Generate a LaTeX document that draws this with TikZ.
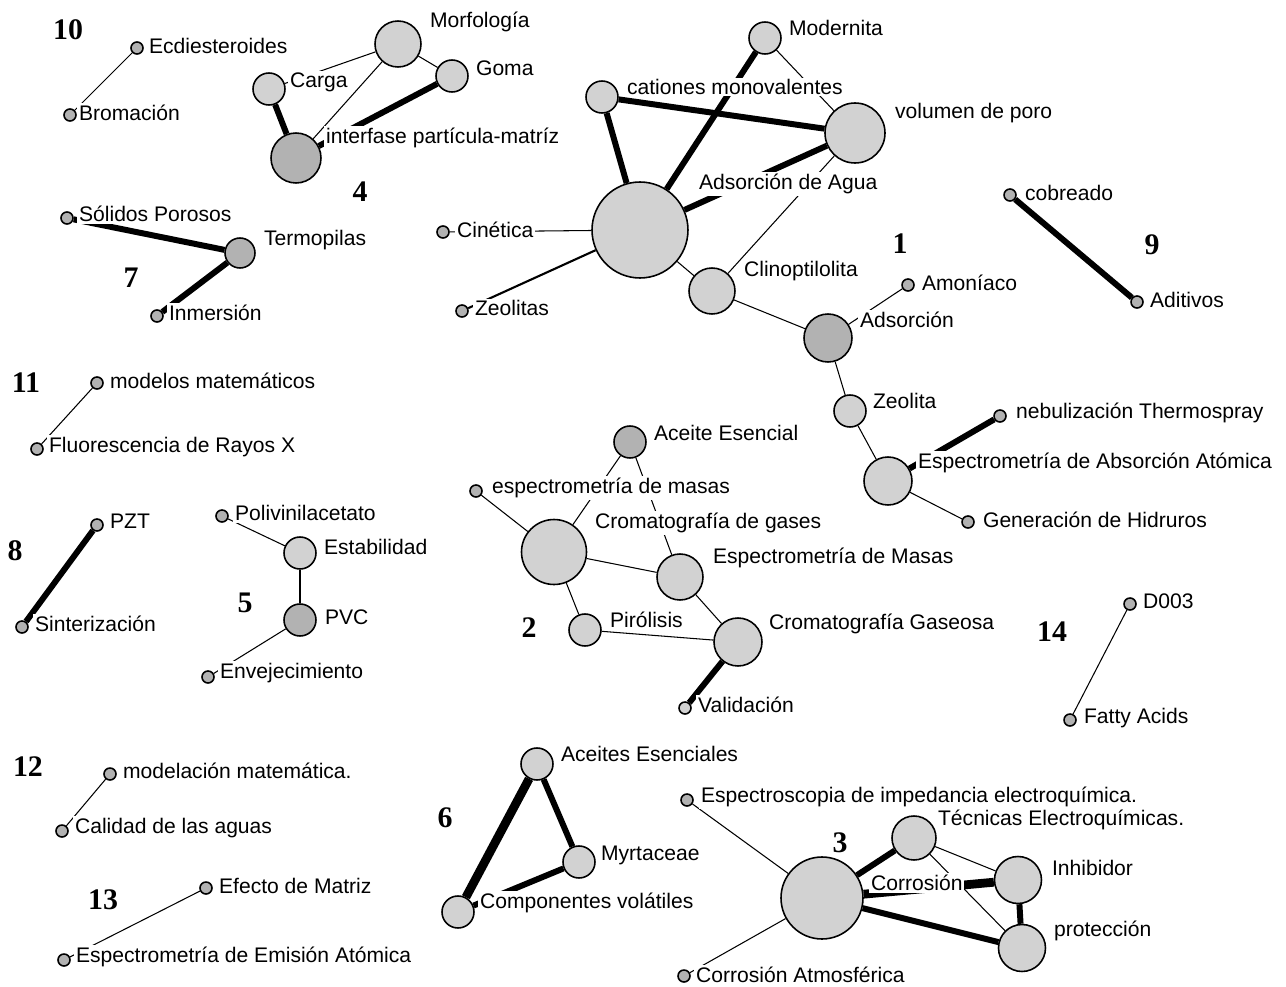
\documentclass[tikz,border=0pt]{standalone}
\usepackage{fontspec}
\setmainfont{Liberation Sans}
\newfontfamily\numfont{Liberation Serif}
\usetikzlibrary{backgrounds}
\begin{document}
\begin{tikzpicture}
[x=0.02cm,y=-0.02cm,%
  kw/.style={shape=circle,draw,line width=0.9pt,inner sep=0pt,minimum size=#1,fill=gray!35},%
  kwd/.style={kw=#1,fill=gray!60},%
  lbl/.style={anchor=west,fill=white,inner sep=1pt,font=\fontsize{12}{13}\selectfont},%
  num/.style={font=\numfont\bfseries\fontsize{17}{17}\selectfont},%
  weak/.style={line width=0.6pt},%
  strong/.style={line width=3.4pt},%
  heavy/.style={line width=5pt}]
\useasboundingbox (0,0) rectangle (1286,987);
\node[kwd=0.24cm] (ecdi) at (137,48) {};
\node[kwd=0.24cm] (brom) at (70,115) {};
\node[kw=0.92cm] (morf) at (398,44) {};
\node[kw=0.64cm] (goma) at (452,76) {};
\node[kw=0.64cm] (carga) at (269,89) {};
\node[kwd=1cm] (inter) at (296,158) {};
\node[kwd=0.24cm] (solid) at (67,218) {};
\node[kwd=0.6cm] (termo) at (240,253) {};
\node[kwd=0.24cm] (inmer) at (157,316) {};
\node[kw=1.92cm] (agua) at (640,230) {};
\node[kw=0.64cm] (catio) at (602,97) {};
\node[kw=0.64cm] (moder) at (765,38) {};
\node[kw=1.2cm] (volum) at (855,133) {};
\node[kwd=0.24cm] (cinet) at (443,232) {};
\node[kwd=0.24cm] (zeols) at (462,311) {};
\node[kw=0.92cm] (clino) at (712,291) {};
\node[kwd=0.96cm] (adsor) at (828,338) {};
\node[kwd=0.24cm] (amoni) at (908,285) {};
\node[kw=0.64cm] (zeol) at (850,411) {};
\node[kw=0.96cm] (eaa) at (888,481) {};
\node[kwd=0.24cm] (nebu) at (1000,416) {};
\node[kwd=0.24cm] (hidr) at (968,522) {};
\node[kwd=0.24cm] (cobre) at (1010,195) {};
\node[kwd=0.24cm] (aditi) at (1137,302) {};
\node[kwd=0.24cm] (model) at (97,383) {};
\node[kwd=0.24cm] (fluor) at (37,449) {};
\node[kwd=0.24cm] (pzt) at (97,525) {};
\node[kwd=0.24cm] (sinter) at (22,627) {};
\node[kwd=0.24cm] (poliv) at (222,516) {};
\node[kw=0.64cm] (estab) at (300,553) {};
\node[kwd=0.64cm] (pvc) at (300,620) {};
\node[kwd=0.24cm] (envej) at (208,677) {};
\node[kwd=0.64cm] (acei) at (630,442) {};
\node[kwd=0.24cm] (espm) at (476,491) {};
\node[kw=1.3cm] (crom) at (554,552) {};
\node[kw=0.92cm] (espM) at (680,577) {};
\node[kw=0.64cm] (piro) at (585,630) {};
\node[kw=0.96cm] (gaseo) at (738,642) {};
\node[kw=0.24cm] (valid) at (685,708) {};
\node[kwd=0.24cm] (d003) at (1130,604) {};
\node[kwd=0.24cm] (fatty) at (1070,720) {};
\node[kwd=0.24cm] (modelac) at (110,774) {};
\node[kwd=0.24cm] (calid) at (62,831) {};
\node[kwd=0.24cm] (efect) at (206,888) {};
\node[kwd=0.24cm] (eea) at (64,960) {};
\node[kw=0.64cm] (aceE) at (537,764) {};
\node[kw=0.64cm] (myrt) at (579,862) {};
\node[kw=0.64cm] (compo) at (458,912) {};
\node[kwd=0.24cm] (espec) at (687,800) {};
\node[kw=1.64cm] (corro) at (822,898) {};
\node[kw=0.88cm] (tecni) at (914,838) {};
\node[kw=0.94cm] (inhib) at (1018,880) {};
\node[kw=0.94cm] (prote) at (1022,948) {};
\node[kwd=0.24cm] (catm) at (684,976) {};
\begin{pgfonlayer}{background}
\fill[white] (0,0) rectangle (1286,987);
\draw[weak] (ecdi) -- (brom);
\draw[strong] (carga) -- (inter);
\draw[strong] (goma) -- (inter);
\draw[weak] (morf) -- (inter);
\draw[weak] (morf) -- (goma);
\draw[weak] (morf) -- (carga);
\draw[strong] (solid) -- (termo);
\draw[strong] (termo) -- (inmer);
\draw[strong] (catio) -- (agua);
\draw[strong] (catio) -- (volum);
\draw[strong] (moder) -- (agua);
\draw[weak] (moder) -- (volum);
\draw[strong] (volum) -- (agua);
\draw[weak] (clino) -- (volum);
\draw[weak] (agua) -- (cinet);
\draw[line width=1.2pt] (agua) -- (zeols);
\draw[weak] (agua) -- (clino);
\draw[weak] (clino) -- (adsor);
\draw[weak] (adsor) -- (amoni);
\draw[weak] (adsor) -- (zeol);
\draw[weak] (zeol) -- (eaa);
\draw[strong] (eaa) -- (nebu);
\draw[weak] (eaa) -- (hidr);
\draw[strong] (cobre) -- (aditi);
\draw[weak] (model) -- (fluor);
\draw[strong] (pzt) -- (sinter);
\draw[weak] (poliv) -- (estab);
\draw[weak] (estab) -- (pvc);
\draw[weak] (pvc) -- (envej);
\draw[weak] (espm) -- (crom);
\draw[weak] (acei) -- (crom);
\draw[weak] (acei) -- (espM);
\draw[weak] (crom) -- (espM);
\draw[weak] (crom) -- (piro);
\draw[weak] (piro) -- (gaseo);
\draw[weak] (espM) -- (gaseo);
\draw[strong] (gaseo) -- (valid);
\draw[weak] (d003) -- (fatty);
\draw[weak] (modelac) -- (calid);
\draw[weak] (efect) -- (eea);
\draw[heavy] (aceE) -- (compo);
\draw[strong] (aceE) -- (myrt);
\draw[strong] (myrt) -- (compo);
\draw[weak] (espec) -- (corro);
\draw[weak] (catm) -- (corro);
\draw[strong] (corro) -- (tecni);
\draw[heavy] (corro) -- (inhib);
\draw[strong] (corro) -- (prote);
\draw[weak] (tecni) -- (inhib);
\draw[weak] (tecni) -- (prote);
\draw[strong] (inhib) -- (prote);
\end{pgfonlayer}
\node[lbl] (ecdiL) at (147,46) {Ecdiesteroides};
\node[lbl] (bromL) at (77,113) {Bromación};
\node[lbl] (morfL) at (428,22) {Morfología};
\node[lbl] (gomaL) at (474,68) {Goma};
\node[lbl] (cargaL) at (288,82) {Carga};
\node[lbl] (interL) at (324,138) {interfase partícula-matríz};
\node[lbl] (solidL) at (77,214) {Sólidos Porosos};
\node[lbl] (termoL) at (262,240) {Termopilas};
\node[lbl] (inmerL) at (167,313) {Inmersión};
\node[lbl] (aguaL) at (697,184) {Adsorción de Agua};
\node[lbl] (catioL) at (625,87) {cationes monovalentes};
\node[lbl] (moderL) at (787,28) {Modernita};
\node[lbl] (volumL) at (893,113) {volumen de poro};
\node[lbl] (cinetL) at (455,230) {Cinética};
\node[lbl] (zeolsL) at (473,308) {Zeolitas};
\node[lbl] (clinoL) at (742,271) {Clinoptilolita};
\node[lbl] (adsorL) at (858,320) {Adsorción};
\node[lbl] (amoniL) at (920,283) {Amoníaco};
\node[lbl] (zeolL) at (871,401) {Zeolita};
\node[lbl] (eaaL) at (916,463) {Espectrometría de Absorción Atómica};
\node[lbl] (nebuL) at (1014,413) {nebulización Thermospray};
\node[lbl] (hidrL) at (981,520) {Generación de Hidruros};
\node[lbl] (cobreL) at (1023,193) {cobreado};
\node[lbl] (aditiL) at (1148,300) {Aditivos};
\node[lbl] (modelL) at (108,381) {modelos matemáticos};
\node[lbl] (fluorL) at (47,447) {Fluorescencia de Rayos X};
\node[lbl] (pztL) at (108,521) {PZT};
\node[lbl] (sinterL) at (33,624) {Sinterización};
\node[lbl] (polivL) at (233,513) {Polivinilacetato};
\node[lbl] (estabL) at (322,547) {Estabilidad};
\node[lbl] (pvcL) at (323,617) {PVC};
\node[lbl] (envejL) at (218,673) {Envejecimiento};
\node[lbl] (aceiL) at (652,433) {Aceite Esencial};
\node[lbl] (espmL) at (490,488) {espectrometría de masas};
\node[lbl] (cromL) at (593,523) {Cromatografía de gases};
\node[lbl] (espML) at (711,558) {Espectrometría de Masas};
\node[lbl] (piroL) at (608,620) {Pirólisis};
\node[lbl] (gaseoL) at (767,624) {Cromatografía Gaseosa};
\node[lbl] (validL) at (696,705) {Validación};
\node[lbl] (d003L) at (1141,601) {D003};
\node[lbl] (fattyL) at (1082,718) {Fatty Acids};
\node[lbl] (modelacL) at (121,771) {modelación matemática.};
\node[lbl] (calidL) at (73,828) {Calidad de las aguas};
\node[lbl] (efectL) at (217,886) {Efecto de Matriz};
\node[lbl] (eeaL) at (74,957) {Espectrometría de Emisión Atómica};
\node[lbl] (aceEL) at (559,754) {Aceites Esenciales};
\node[lbl] (myrtL) at (599,855) {Myrtaceae};
\node[lbl] (compoL) at (478,903) {Componentes volátiles};
\node[lbl] (especL) at (699,797) {Espectroscopia de impedancia electroquímica.};
\node[lbl] (corroL) at (869,883) {Corrosión};
\node[lbl] (tecniL) at (936,820) {Técnicas Electroquímicas.};
\node[lbl] (inhibL) at (1050,868) {Inhibidor};
\node[lbl] (proteL) at (1052,931) {protección};
\node[lbl] (catmL) at (694,975) {Corrosión Atmosférica};
\node[num] (n1) at (900,244) {1};
\node[num] (n2) at (529,628) {2};
\node[num] (n3) at (840,843) {3};
\node[num] (n4) at (360,192) {4};
\node[num] (n5) at (245,603) {5};
\node[num] (n6) at (445,818) {6};
\node[num] (n7) at (131,278) {7};
\node[num] (n8) at (15,551) {8};
\node[num] (n9) at (1152,245) {9};
\node[num] (n10) at (68,30) {10};
\node[num] (n11) at (26,383) {11};
\node[num] (n12) at (28,767) {12};
\node[num] (n13) at (103,900) {13};
\node[num] (n14) at (1052,632) {14};
\end{tikzpicture}
\end{document}
